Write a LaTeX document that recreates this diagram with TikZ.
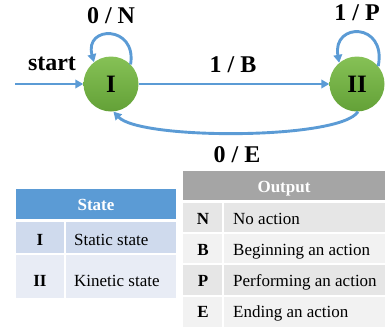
\documentclass[tikz,border=0pt]{standalone}
\usepackage{fontspec}
\setmainfont{Liberation Serif}
\usetikzlibrary{arrows.meta}
\definecolor{edgeblue}{HTML}{5B9BD5}
\definecolor{greenTop}{HTML}{86C156}
\definecolor{greenBot}{HTML}{63A137}
\definecolor{stHead}{HTML}{5B9BD5}
\definecolor{stRowA}{HTML}{CFDAED}
\definecolor{stRowB}{HTML}{E8ECF5}
\definecolor{outHead}{HTML}{A5A5A5}
\definecolor{outRowA}{HTML}{E6E6E6}
\definecolor{outRowB}{HTML}{F2F2F2}
\tikzset{
  fsm/.style={circle, minimum size=55pt, inner sep=0pt, top color=greenTop, bottom color=greenBot,
    font=\fontsize{25}{25}\selectfont\bfseries},
  edgeline/.style={draw=edgeblue, line width=2.9pt, -{Triangle[length=8pt,width=8.5pt]}},
  lbl/.style={font=\fontsize{24}{24}\selectfont\bfseries, inner sep=0pt, anchor=base},
  tcell/.style={font=\fontsize{17}{17}\selectfont, inner sep=0pt, anchor=base west},
  tkey/.style={font=\fontsize{17}{17}\selectfont\bfseries, inner sep=0pt, anchor=base},
  thead/.style={font=\fontsize{17}{17}\selectfont\bfseries, text=white, inner sep=0pt, anchor=base},
  sep/.style={draw=white, line width=1.3pt}
}
\begin{document}
\begin{tikzpicture}[x=1pt,y=1pt]
\useasboundingbox (0,0) rectangle (388,-330);
% states
\node[fsm] (I) at (111,-84) {I};
\node[fsm] (II) at (357,-84) {II};
\coordinate (s) at (15,-84);
% edges
\draw[edgeline] (s) -- (I);
\draw[edgeline] (I) -- (II);
\draw[edgeline] (I.45) .. controls (137,-25) and (84,-25) .. (I.128);
\draw[edgeline] (II.40) .. controls (387,-22) and (332,-22) .. (II.130);
\draw[edgeline] (II.272) .. controls (340,-140) and (140,-140) .. (I.275);
% labels
\node[lbl] (lstart) at (52,-70) {start};
\node[lbl] (lB) at (233,-72) {1 / B};
\node[lbl] (lN) at (111,-23) {0 / N};
\node[lbl] (lP) at (357,-20) {1 / P};
\node[lbl] (lE) at (237,-162) {0 / E};
% state table
\fill[stHead] (16,-189) rectangle (176,-219);
\fill[stRowA] (16,-222) rectangle (176,-254);
\fill[stRowB] (16,-254) rectangle (176,-298);
\draw[sep] (16,-254) -- (176,-254);
\draw[sep] (65,-222) -- (65,-298);
\node[thead] (sh) at (96,-210) {State};
\node[tkey] (s1k) at (40,-245) {I};
\node[tcell] (s1v) at (74,-245) {Static state};
\node[tkey] (s2k) at (40,-286) {II};
\node[tcell] (s2v) at (74,-286) {Kinetic state};
% output table
\fill[outHead] (183,-171) rectangle (385,-200);
\fill[outRowA] (183,-203) rectangle (385,-233);
\fill[outRowB] (183,-233) rectangle (385,-264);
\fill[outRowA] (183,-264) rectangle (385,-296);
\fill[outRowB] (183,-296) rectangle (385,-327);
\draw[sep] (183,-233) -- (385,-233);
\draw[sep] (183,-264) -- (385,-264);
\draw[sep] (183,-296) -- (385,-296);
\draw[sep] (223,-203) -- (223,-327);
\node[thead] (oh) at (284,-192) {Output};
\node[tkey] (o1k) at (203,-224) {N};
\node[tcell] (o1v) at (233,-224) {No action};
\node[tkey] (o2k) at (203,-255) {B};
\node[tcell] (o2v) at (233,-255) {Beginning an action};
\node[tkey] (o3k) at (203,-286) {P};
\node[tcell] (o3v) at (233,-286) {Performing an action};
\node[tkey] (o4k) at (203,-317) {E};
\node[tcell] (o4v) at (233,-317) {Ending an action};
\end{tikzpicture}
\end{document}
